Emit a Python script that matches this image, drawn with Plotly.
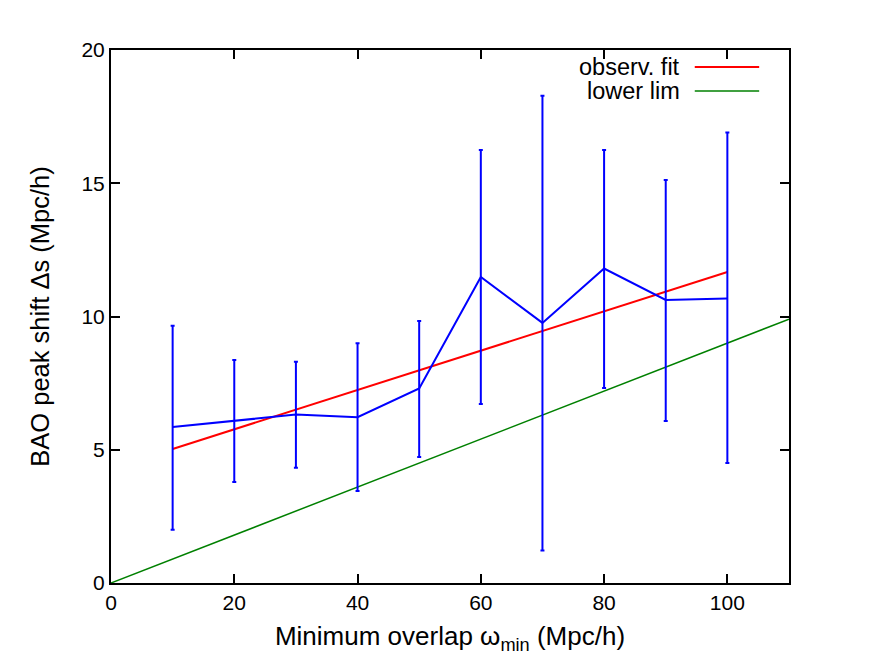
import plotly.graph_objects as go

# BAO peak shift vs minimum overlap
overlap = [10, 20, 30, 40, 50, 60, 70, 80, 90, 100]
shift = [5.85, 6.08, 6.32, 6.22, 7.3, 11.48, 9.76, 11.8, 10.62, 10.68]
shift_lo = [2.0, 3.79, 4.32, 3.45, 4.73, 6.72, 1.22, 7.32, 6.08, 4.5]
shift_hi = [9.65, 8.37, 8.3, 9.0, 9.83, 16.25, 18.28, 16.25, 15.12, 16.9]

fit_x = [10, 100]
fit_y = [5.03, 11.67]

lim_x = [0, 110]
lim_y = [0, 9.9]

err_plus = [h - s for h, s in zip(shift_hi, shift)]
err_minus = [s - l for s, l in zip(shift, shift_lo)]

font = "Liberation Sans, Arial, sans-serif"

fig = go.Figure()
fig.add_trace(go.Scatter(x=fit_x, y=fit_y, mode="lines", name="observ. fit",
                         line=dict(color="#ff0000", width=2)))
fig.add_trace(go.Scatter(x=lim_x, y=lim_y, mode="lines", name="lower lim",
                         line=dict(color="#008000", width=1.5)))
fig.add_trace(go.Scatter(
    x=overlap, y=shift, mode="lines", showlegend=False,
    line=dict(color="#0000ff", width=2),
    error_y=dict(type="data", symmetric=False, array=err_plus, arrayminus=err_minus,
                 color="#0000ff", thickness=2, width=2),
))

# legend drawn gnuplot-style: text right-aligned, sample to the right
leg = [("observ. fit", "#ff0000", 2, 0.968), ("lower lim", "#008000", 1.5, 0.923)]
for txt, col, w, yy in leg:
    fig.add_annotation(xref="paper", yref="paper", x=0.842, y=yy, text=txt,
                       showarrow=False, xanchor="right", yanchor="middle",
                       font=dict(size=23.5, color="black", family=font))
    fig.add_shape(type="line", xref="paper", yref="paper", x0=0.861, x1=0.956,
                  y0=yy, y1=yy, line=dict(color=col, width=w))

axis_common = dict(showgrid=False, zeroline=False, showline=True, linecolor="black",
                   linewidth=2, mirror="ticks", ticks="inside", ticklen=9,
                   tickwidth=1.5, tickcolor="black",
                   tickfont=dict(size=21, color="black", family=font))

fig.update_xaxes(range=[0, 110], dtick=20, tick0=0,
                 title=dict(text="Minimum overlap ω<sub>min</sub> (Mpc/h)", standoff=14,
                            font=dict(size=26, color="black", family=font)),
                 **axis_common)
fig.update_yaxes(range=[0, 20], dtick=5, tick0=0,
                 title=dict(text="BAO peak shift Δs (Mpc/h)", standoff=25,
                            font=dict(size=25.5, color="black", family=font)),
                 **axis_common)

# page body adds an 8px offset, so margins are shifted to compensate
fig.update_layout(
    width=872, height=654,
    margin=dict(l=103, r=91, t=42, b=79),
    paper_bgcolor="white", plot_bgcolor="white",
    showlegend=False,
)

fig.write_html("out.html")
